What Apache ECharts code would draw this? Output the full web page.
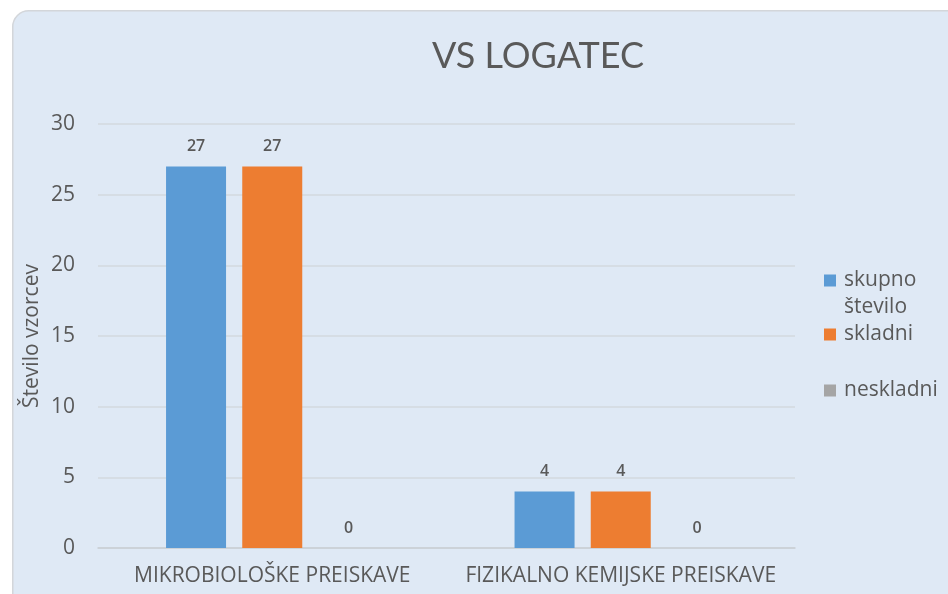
<!DOCTYPE html>
<html>
<head>
<meta charset="utf-8">
<script src="https://cdn.jsdelivr.net/npm/echarts@6/dist/echarts.min.js"></script>
<style>
  html, body { margin: 0; padding: 0; background: #ffffff; }
  #chart { width: 948px; height: 594px; }
</style>
</head>
<body>
<div id="chart"></div>
<script>
const categories = ['MIKROBIOLOŠKE PREISKAVE', 'FIZIKALNO KEMIJSKE PREISKAVE'];
const seriesNames = ['skupno število', 'skladni', 'neskladni'];
const skupnoStevilo = [27, 4];
const skladni = [27, 4];
const neskladni = [0, 0];
const yTicks = [0, 5, 10, 15, 20, 25, 30];

const seriesData = [skupnoStevilo, skladni, neskladni];
const colors = ['#5b9bd5', '#ed7d31', '#a5a5a5'];
const textColor = '#595959';
const fontFamily = '"Open Sans", Lato, sans-serif';

// one legend per item so the wrapped first entry lines up like the original
// (a blank first line keeps "skupno" level with its icon)
const legendTops = [240, 321, 377];
const legends = seriesNames.map((name, i) => ({
  data: [name],
  orient: 'vertical',
  left: 824,
  top: legendTops[i],
  padding: 0,
  icon: 'rect',
  itemWidth: 12,
  itemHeight: 12,
  formatter: (n) => n.indexOf(' ') > -1 ? '\u00a0\n' + n.replace(' ', '\n') : n,
  textStyle: {
    color: textColor,
    fontFamily: fontFamily,
    fontSize: 21,
    lineHeight: 27,
    padding: [0, 0, 0, 3]
  }
}));

const chart = echarts.init(document.getElementById('chart'));

chart.setOption({
  backgroundColor: '#ffffff',
  animation: false,
  color: colors,
  graphic: [{
    type: 'rect',
    left: 12,
    top: 10,
    z: -10,
    shape: { width: 980, height: 620, r: [16, 0, 0, 0] },
    style: { fill: '#dfe9f5', stroke: '#d3d6da', lineWidth: 1.5 }
  }],
  title: {
    text: 'VS LOGATEC',
    left: 533,
    top: 33,
    textAlign: 'center',
    textStyle: {
      color: textColor,
      fontFamily: 'Lato, sans-serif',
      fontSize: 36,
      fontWeight: 'normal'
    }
  },
  legend: legends,
  grid: {
    left: 98,
    right: 153,
    top: 124,
    bottom: 46
  },
  xAxis: {
    type: 'category',
    data: categories,
    axisTick: { show: false },
    axisLine: { lineStyle: { color: '#c9ced4', width: 1.5 } },
    axisLabel: {
      interval: 0,
      color: textColor,
      fontFamily: fontFamily,
      fontSize: 21,
      margin: 18
    }
  },
  yAxis: {
    type: 'value',
    min: yTicks[0],
    max: yTicks[yTicks.length - 1],
    interval: yTicks[1] - yTicks[0],
    name: 'Število vzorcev',
    nameLocation: 'middle',
    nameGap: 55,
    nameMoveOverlap: false,
    nameTextStyle: {
      color: textColor,
      fontFamily: fontFamily,
      fontSize: 21
    },
    axisLine: { show: false },
    axisTick: { show: false },
    splitLine: { lineStyle: { color: '#d3d8de', width: 1.5 } },
    axisLabel: {
      color: textColor,
      fontFamily: fontFamily,
      fontSize: 21,
      margin: 23
    }
  },
  series: seriesNames.map((name, i) => ({
    name: name,
    type: 'bar',
    data: seriesData[i],
    barWidth: 60,
    barGap: '27%',
    itemStyle: { color: colors[i] },
    label: {
      show: true,
      position: 'top',
      distance: 12,
      color: textColor,
      fontFamily: fontFamily,
      fontSize: 16,
      fontWeight: 600
    }
  }))
});
</script>
</body>
</html>
